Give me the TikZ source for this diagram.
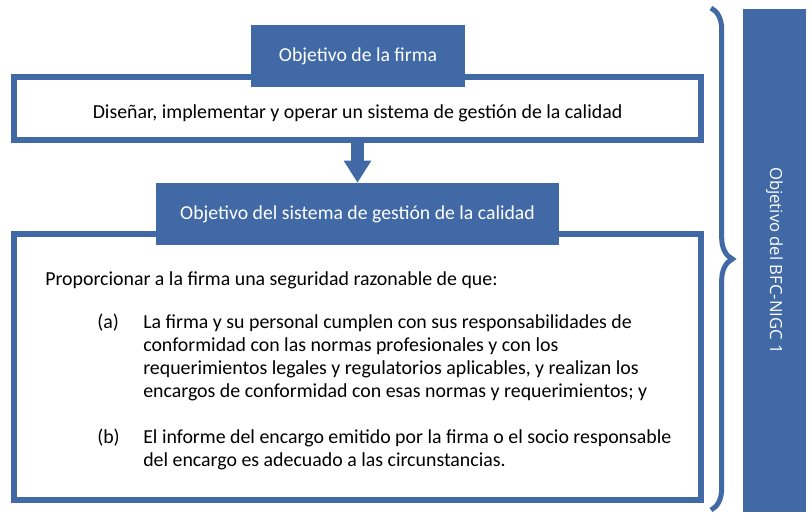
\documentclass[tikz,border=0pt]{standalone}
\usepackage{fontspec}
\setmainfont{Carlito}
\newfontfamily\barrafont{Open Sans}
\usetikzlibrary{arrows.meta,decorations.pathreplacing,positioning}
\definecolor{azulnigc}{RGB}{65,105,166}
\tikzset{
	caja/.style={draw=azulnigc, line width=4.5pt, fill=white, inner sep=0pt},
	encabezado/.style={fill=azulnigc, text=white, inner sep=0pt, minimum height=46.5pt, font=\fontsize{14.8}{17}\selectfont},
	texto/.style={inner sep=0pt, font=\fontsize{14.9}{17.25}\selectfont, align=left},
	flecha/.style={draw=azulnigc, line width=9.75pt, -{Triangle[length=16.5pt, width=19.5pt]}},
	llave/.style={draw=azulnigc, line width=3.75pt, decorate, decoration={brace, amplitude=16pt}}}

\begin{document}
\begin{tikzpicture}[x=0.75pt,y=0.75pt,yscale=-1]
	\useasboundingbox (0,0) rectangle (812,512);

	% cajas
	\node[caja, minimum width=515.25pt, minimum height=47.25pt] (disenar) at (357.5,108.5) {};
	\node[caja, minimum width=515.25pt, minimum height=199.5pt] (proporcionar) at (357.5,367) {};

	% encabezados
	\node[encabezado, minimum width=160.5pt] (objfirma) at (358,56) {Objetivo de la firma};
	\node[encabezado, minimum width=302.25pt] (objsistema) at (357.5,214) {Objetivo del sistema de gestión de la calidad};

	% flecha entre cajas
	\draw[flecha] (disenar.south) -- (objsistema.north);

	% textos
	\node[texto] (txtdisenar) at (357.5,113) {Diseñar, implementar y operar un sistema de gestión de la calidad};
	\node[texto, anchor=west] (txtintro) at (45,280) {Proporcionar a la firma una seguridad razonable de que:};
	\node[texto, anchor=north west] (lbla) at (97,314) {(a)};
	\node[texto, anchor=north west] (itema) at (143,314) {La firma y su personal cumplen con sus responsabilidades de\\
		conformidad con las normas profesionales y con los\\
		requerimientos legales y regulatorios aplicables, y realizan los\\
		encargos de conformidad con esas normas y requerimientos; y};
	\node[texto, anchor=north west] (lblb) at (97,429) {(b)};
	\node[texto, anchor=north west] (itemb) at (143,429) {El informe del encargo emitido por la firma o el socio responsable\\
		del encargo es adecuado a las circunstancias.};

	% barra lateral y llave
	\node[fill=azulnigc, text=white, rotate=-90, inner sep=0pt, minimum width=377.25pt, minimum height=47.25pt, font=\barrafont\fontsize{12.5}{15}\selectfont] (bfc) at (774.5,260.5) {Objetivo del BFC-NIGC 1};
	\coordinate (llavesup) at (711,8);
	\coordinate (llaveinf) at (711,510);
	\draw[llave] (llavesup) -- (llaveinf);
\end{tikzpicture}
\end{document}
